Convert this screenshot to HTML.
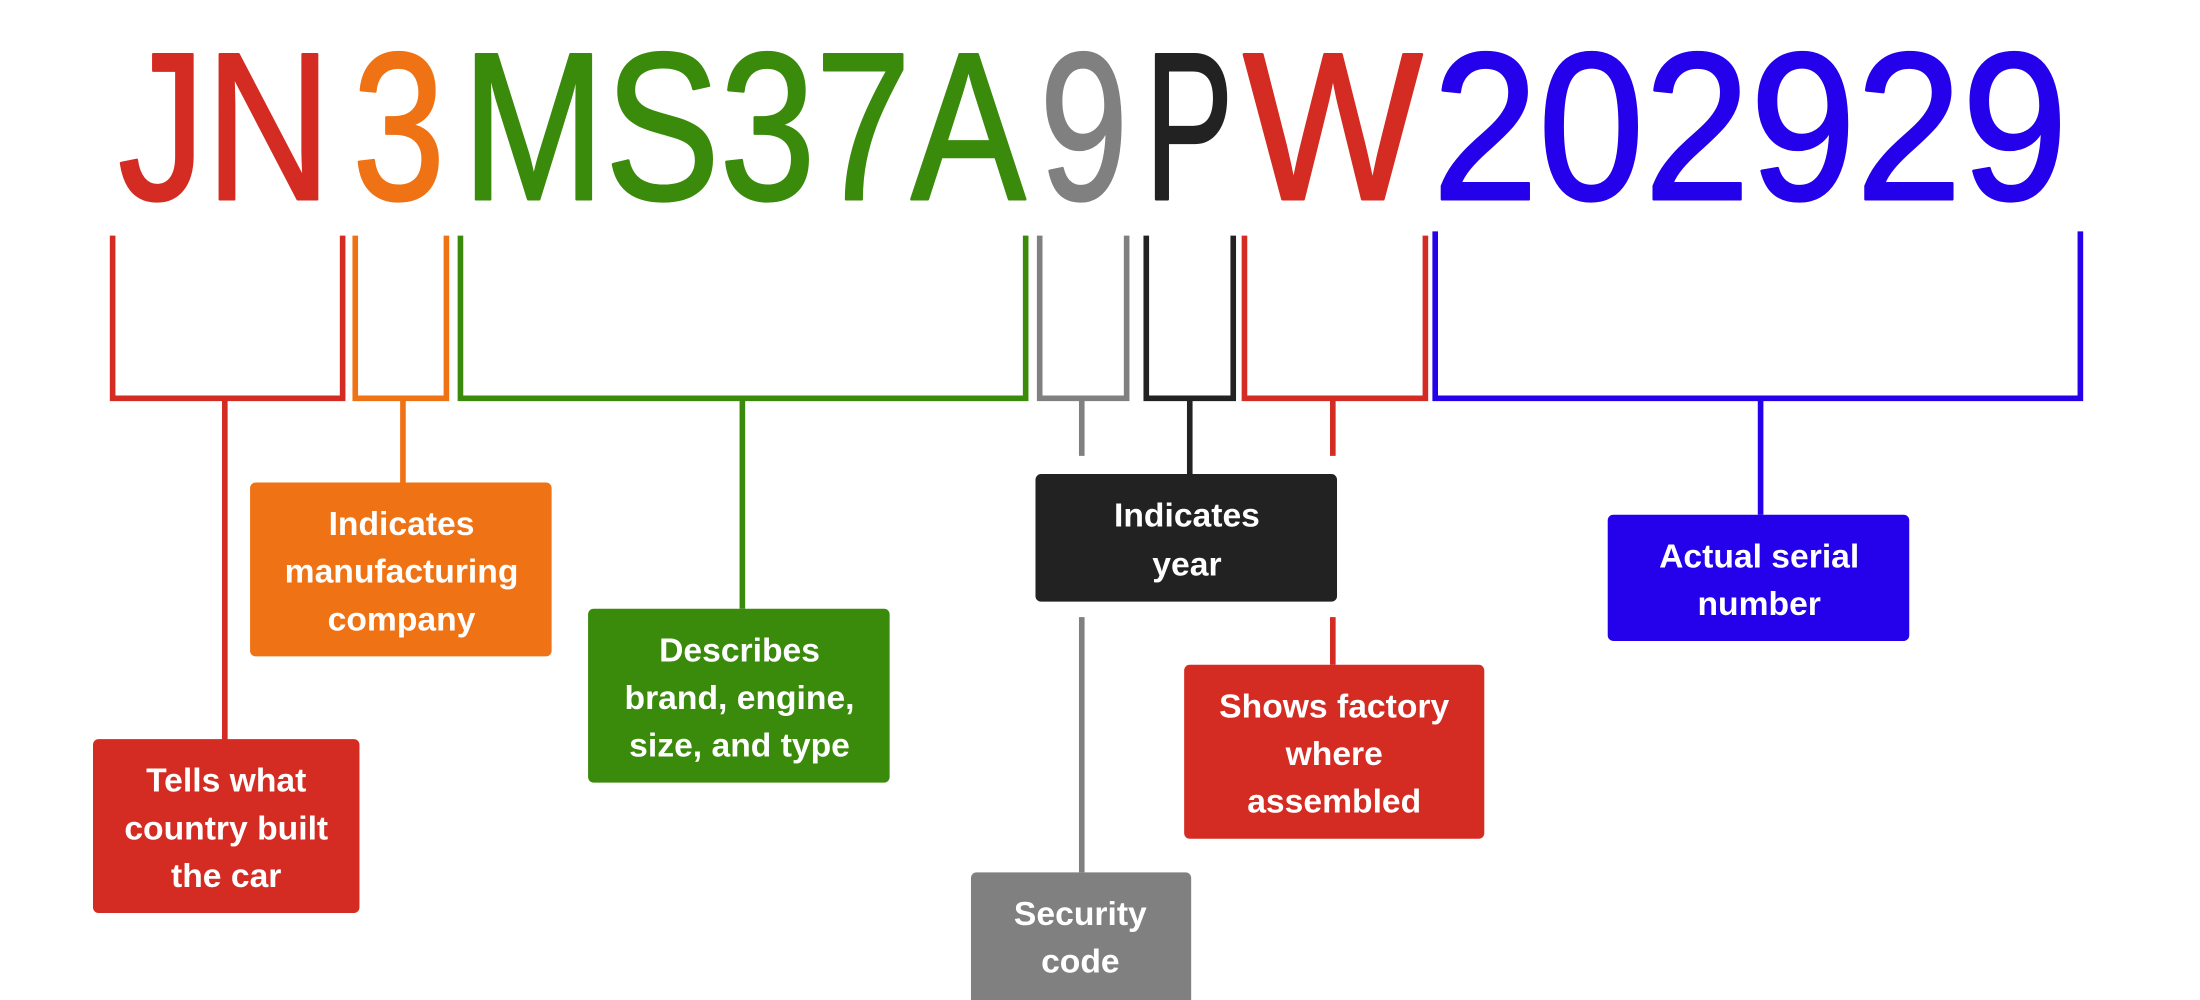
<!DOCTYPE html>
<html><head><meta charset="utf-8"><style>
html,body{margin:0;padding:0;background:#fff;width:2200px;height:1000px;overflow:hidden}
svg{display:block}
.b{font-family:"Liberation Sans",sans-serif;font-weight:normal;font-size:150px;stroke-width:2;stroke-linejoin:round}
.t{font-family:"Liberation Sans",sans-serif;font-weight:bold;font-size:24px;fill:#fff;text-anchor:middle;dominant-baseline:central}
</style></head><body>
<svg width="2200" height="1000" viewBox="0 0 1568 713" xmlns="http://www.w3.org/2000/svg">
<rect width="1568" height="713" fill="#fff"/>
<g class="b">
<text x="84" y="142" textLength="152" lengthAdjust="spacingAndGlyphs" fill="#d42b22" stroke="#d42b22">JN</text>
<text x="251" y="142" textLength="66" lengthAdjust="spacingAndGlyphs" fill="#ef7215" stroke="#ef7215">3</text>
<text x="329" y="142" textLength="402" lengthAdjust="spacingAndGlyphs" fill="#3a8a0c" stroke="#3a8a0c">MS37A</text>
<text x="741" y="142" textLength="63" lengthAdjust="spacingAndGlyphs" fill="#808080" stroke="#808080">9</text>
<text x="816" y="142" textLength="63" lengthAdjust="spacingAndGlyphs" fill="#222" stroke="#222">P</text>
<text x="886" y="142" textLength="128" lengthAdjust="spacingAndGlyphs" fill="#d42b22" stroke="#d42b22">W</text>
<text x="1021" y="142" textLength="453" lengthAdjust="spacingAndGlyphs" fill="#2500ea" stroke="#2500ea">202929</text>
</g>
<g fill="none" stroke-width="4">
<path d="M80 168V284H244V168M160 284V528" stroke="#d42b22"/>
<path d="M253 168V284H318V168M287 284V345" stroke="#ef7215"/>
<path d="M328 168V284H731V168M529 284V434" stroke="#3a8a0c"/>
<path d="M741 168V284H803V168M771 284V325M771 440V622" stroke="#808080"/>
<path d="M817 168V284H879V168M848 284V338" stroke="#222"/>
<path d="M887 168V284H1016V168M950 284V325M950 440V474" stroke="#d42b22"/>
<path d="M1023 165V284H1483V165M1255 284V367" stroke="#2500ea"/>
</g>
<rect x="66" y="527" width="190" height="124" rx="4" fill="#d42b22"/>
<text class="t" x="161" y="557">Tells what</text><text class="t" x="161" y="591">country built</text><text class="t" x="161" y="625">the car</text>
<rect x="178" y="344" width="215" height="124" rx="4" fill="#ef7215"/>
<text class="t" x="286" y="374">Indicates</text><text class="t" x="286" y="408">manufacturing</text><text class="t" x="286" y="442">company</text>
<rect x="419" y="434" width="215" height="124" rx="4" fill="#3a8a0c"/>
<text class="t" x="527" y="464">Describes</text><text class="t" x="527" y="498">brand, engine,</text><text class="t" x="527" y="532">size, and type</text>
<rect x="738" y="338" width="215" height="91" rx="4" fill="#222"/>
<text class="t" x="846" y="368">Indicates</text><text class="t" x="846" y="403">year</text>
<rect x="1146" y="367" width="215" height="90" rx="4" fill="#2500ea"/>
<text class="t" x="1254" y="397">Actual serial</text><text class="t" x="1254" y="431">number</text>
<rect x="844" y="474" width="214" height="124" rx="4" fill="#d42b22"/>
<text class="t" x="951" y="504">Shows factory</text><text class="t" x="951" y="538">where</text><text class="t" x="951" y="572">assembled</text>
<rect x="692" y="622" width="157" height="100" rx="4" fill="#808080"/>
<text class="t" x="770" y="652">Security</text><text class="t" x="770" y="686">code</text>
</svg>
</body></html>
